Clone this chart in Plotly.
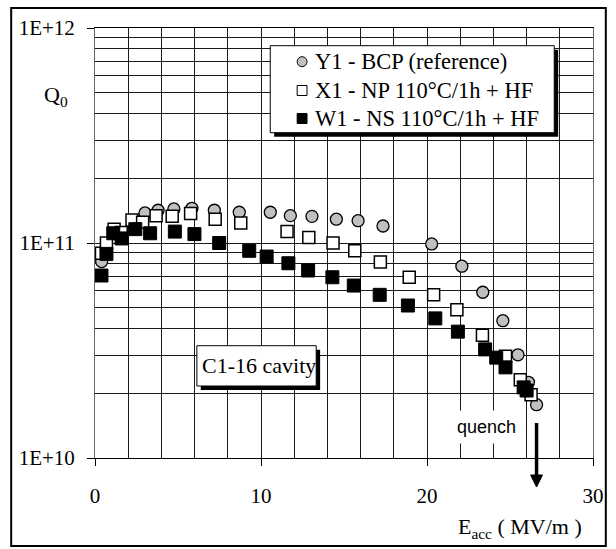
import plotly.graph_objects as go

# Q0(Eacc) curves for three C1-16 cavity treatments
E_Y1 = [0.40, 3.01, 3.80, 4.75, 5.84, 7.19, 8.69, 10.56, 11.77, 13.07, 14.54, 15.85,
        17.35, 20.28, 22.10, 23.36, 24.57, 25.48, 26.11, 26.60]
Q_Y1 = [8.2e10, 1.38e11, 1.42e11, 1.44e11, 1.45e11, 1.42e11, 1.39e11, 1.39e11, 1.34e11,
        1.33e11, 1.29e11, 1.27e11, 1.20e11, 9.9e10, 7.8e10, 5.9e10, 4.35e10, 3.02e10,
        2.25e10, 1.77e10]

E_X1 = [0.39, 0.69, 1.15, 1.58, 2.23, 2.87, 3.68, 4.65, 5.76, 7.24, 8.78, 11.57, 12.88,
        14.34, 15.65, 17.19, 18.93, 20.40, 21.80, 23.34, 24.73, 25.62, 26.27]
Q_X1 = [8.97e10, 1.0e11, 1.16e11, 1.12e11, 1.28e11, 1.25e11, 1.34e11, 1.33e11, 1.37e11,
        1.29e11, 1.24e11, 1.13e11, 1.06e11, 1.0e11, 9.2e10, 8.15e10, 6.93e10, 5.75e10,
        4.89e10, 3.72e10, 2.97e10, 2.31e10, 1.97e10]

E_W1 = [0.39, 0.69, 1.10, 1.60, 2.43, 3.32, 4.81, 5.99, 7.48, 9.29, 10.34, 11.65, 12.84,
        14.30, 15.59, 17.15, 18.85, 20.50, 21.86, 23.50, 24.17, 24.73, 25.82, 26.00]
Q_W1 = [7.06e10, 8.9e10, 1.11e11, 1.05e11, 1.16e11, 1.11e11, 1.13e11, 1.10e11, 1.0e11,
        9.2e10, 8.65e10, 8.05e10, 7.45e10, 6.93e10, 6.34e10, 5.74e10, 5.12e10, 4.46e10,
        3.87e10, 3.2e10, 2.93e10, 2.64e10, 2.13e10, 2.06e10]

SERIES_NAMES = ["Y1 - BCP (reference)", "X1 - NP 110°C/1h + HF", "W1 - NS 110°C/1h + HF"]
X_TICKS = [0, 10, 20, 30]
Y_TICKS = [1e10, 1e11, 1e12]
Y_TICK_TEXT = ["1E+10", "1E+11", "1E+12"]
QUENCH_E = 26.6

SERIF = "Liberation Serif, Times New Roman, serif"
SANS = "Liberation Sans, Arial, sans-serif"
GRID = "#1a1a1a"
GRAY = "#c0c0c0"

FIG_W, FIG_H = 616, 549
L, T, R, B = 95, 28, 600, 458
PW, PH = R - L, B - T


def px_x(px):
    return (px - L) / PW


def px_y(py):
    return 1 - (py - T) / PH


fig = go.Figure()
fig.add_trace(go.Scatter(
    x=E_Y1, y=Q_Y1, mode="markers", name=SERIES_NAMES[0],
    marker=dict(symbol="circle", size=12, color=GRAY, line=dict(color="black", width=1.3))))
fig.add_trace(go.Scatter(
    x=E_X1, y=Q_X1, mode="markers", name=SERIES_NAMES[1],
    marker=dict(symbol="square", size=12, color="white", line=dict(color="black", width=1.5))))
fig.add_trace(go.Scatter(
    x=E_W1, y=Q_W1, mode="markers", name=SERIES_NAMES[2],
    marker=dict(symbol="square", size=13, color="black", line=dict(color="black", width=1))))

minor_y = [k * 10 ** n for n in (10, 11) for k in range(2, 10)]
minor_x = [v for v in range(2, 30, 2) if v % 10]

fig.update_xaxes(
    range=[0, 30], tickvals=X_TICKS, ticktext=[str(v) for v in X_TICKS],
    showgrid=True, gridcolor=GRID, gridwidth=1,
    minor=dict(tickvals=minor_x, showgrid=True, gridcolor=GRID, gridwidth=1, ticks=""),
    showline=True, linecolor="black", linewidth=1, mirror=True,
    ticks="outside", ticklen=7, tickcolor="black", ticklabelstandoff=12,
    zeroline=False, tickfont=dict(family=SERIF, size=21, color="black"))
fig.update_yaxes(
    type="log", range=[10, 12], tickvals=Y_TICKS, ticktext=Y_TICK_TEXT,
    showgrid=True, gridcolor=GRID, gridwidth=1,
    minor=dict(tickvals=minor_y, showgrid=True, gridcolor=GRID, gridwidth=1, ticks=""),
    showline=True, linecolor="#666666", linewidth=1, mirror=True,
    ticks="outside", ticklen=7, tickcolor="black", ticklabelstandoff=8,
    zeroline=False, tickfont=dict(family=SERIF, size=21, color="black"))

shapes = []
annotations = []

# outer frame
shapes.append(dict(type="rect", xref="paper", yref="paper",
                   x0=px_x(10), x1=px_x(613), y0=px_y(8), y1=px_y(546),
                   line=dict(color="black", width=2), fillcolor="rgba(0,0,0,0)", layer="above"))

# legend box with drop shadow
lx0, ly0, lx1, ly1, sh = 272.7, 45.7, 560.7, 132.7, 4
shapes.append(dict(type="rect", xref="paper", yref="paper",
                   x0=px_x(lx0 + sh), x1=px_x(lx1 + sh), y0=px_y(ly1 + sh), y1=px_y(ly0 + sh),
                   line=dict(width=0), fillcolor="black", layer="above"))
shapes.append(dict(type="rect", xref="paper", yref="paper",
                   x0=px_x(lx0), x1=px_x(lx1), y0=px_y(ly1), y1=px_y(ly0),
                   line=dict(color="black", width=1), fillcolor="white", layer="above"))

row_y = [61.7, 90.5, 118.5]
mx, r = 305, 5
shapes.append(dict(type="circle", xref="paper", yref="paper",
                   x0=px_x(mx - r), x1=px_x(mx + r), y0=px_y(row_y[0] + r), y1=px_y(row_y[0] - r),
                   line=dict(color="black", width=1), fillcolor=GRAY, layer="above"))
shapes.append(dict(type="rect", xref="paper", yref="paper",
                   x0=px_x(mx - r), x1=px_x(mx + r), y0=px_y(row_y[1] + r), y1=px_y(row_y[1] - r),
                   line=dict(color="black", width=1), fillcolor="white", layer="above"))
shapes.append(dict(type="rect", xref="paper", yref="paper",
                   x0=px_x(mx - r), x1=px_x(mx + r), y0=px_y(row_y[2] + r), y1=px_y(row_y[2] - r),
                   line=dict(color="black", width=1), fillcolor="black", layer="above"))
for name, yy in zip(SERIES_NAMES, row_y):
    annotations.append(dict(text=name, xref="paper", yref="paper", x=px_x(316), y=px_y(yy),
                            xanchor="left", yanchor="middle", showarrow=False,
                            font=dict(family=SERIF, size=22.5, color="black")))

# cavity label box with shadow
cx0, cy0, cx1, cy1 = 198.3, 345.7, 319.3, 386
shapes.append(dict(type="rect", xref="paper", yref="paper",
                   x0=px_x(cx0 + sh), x1=px_x(cx1 + sh), y0=px_y(cy1 + sh), y1=px_y(cy0 + sh),
                   line=dict(width=0), fillcolor="black", layer="above"))
shapes.append(dict(type="rect", xref="paper", yref="paper",
                   x0=px_x(cx0), x1=px_x(cx1), y0=px_y(cy1), y1=px_y(cy0),
                   line=dict(color="black", width=1), fillcolor="white", layer="above"))
annotations.append(dict(text="C1-16 cavity", xref="paper", yref="paper",
                        x=px_x((cx0 + cx1) / 2 + 3), y=px_y((cy0 + cy1) / 2),
                        xanchor="center", yanchor="middle", showarrow=False,
                        font=dict(family=SERIF, size=22, color="black")))

# quench marker: label and downward arrow at the quench field
annotations.append(dict(text="quench", xref="x", yref="paper", x=23.6, y=px_y(427),
                        xanchor="center", yanchor="middle", showarrow=False,
                        bgcolor="white", borderpad=6,
                        font=dict(family=SANS, size=18, color="black")))
hw = 6 / (PW / 30)
shapes.append(dict(type="line", xref="x", yref="paper", x0=QUENCH_E, x1=QUENCH_E,
                   y0=px_y(423), y1=px_y(477), line=dict(color="black", width=3.5), layer="above"))
shapes.append(dict(type="path", xref="x", yref="paper",
                   path=f"M {QUENCH_E - hw},{px_y(475)} L {QUENCH_E + hw},{px_y(475)} "
                        f"L {QUENCH_E},{px_y(487)} Z",
                   line=dict(color="black", width=1), fillcolor="black", layer="above"))

# axis titles
annotations.append(dict(text="Q<sub>0</sub>", xref="paper", yref="paper",
                        x=px_x(55), y=px_y(96), xanchor="center", yanchor="middle",
                        showarrow=False, font=dict(family=SERIF, size=22, color="black")))
annotations.append(dict(text="E<sub>acc</sub> ( MV/m )", xref="paper", yref="paper",
                        x=px_x(526), y=px_y(528), xanchor="center", yanchor="middle",
                        showarrow=False, font=dict(family=SERIF, size=22, color="black")))

fig.update_layout(
    width=FIG_W, height=FIG_H, autosize=False,
    margin=dict(l=L, r=FIG_W - R, t=T, b=FIG_H - B, pad=0),
    paper_bgcolor="white", plot_bgcolor="white",
    showlegend=False, shapes=shapes, annotations=annotations,
    font=dict(family=SERIF, color="black"))

fig.write_html("out.html")
